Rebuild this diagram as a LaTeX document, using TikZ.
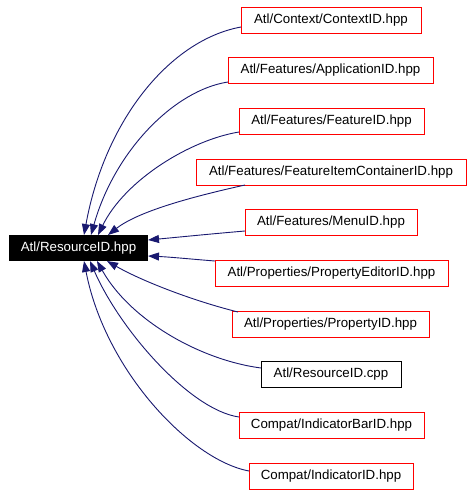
\documentclass[tikz,border=0pt]{standalone}
\usepackage{fontspec}
\setmainfont{Liberation Sans}
\usetikzlibrary{arrows.meta}
\definecolor{edgec}{HTML}{191970}
\definecolor{redb}{HTML}{FF0000}
\begin{document}
\begin{tikzpicture}[x=1pt,y=-1pt,
  box/.style={draw=redb, line width=1pt, inner sep=0pt, minimum height=26pt,
    font=\fontsize{13.3}{15}\selectfont, text=black},
  blkbox/.style={box, draw=black},
  edge/.style={draw=edgec, line width=0.9pt, -{Triangle[length=11pt,width=8pt,fill=edgec]}},
]
\useasboundingbox[fill=white] (0,0) rectangle (472,496);
% main node
\node[fill=black, text=white, minimum width=139pt, minimum height=26pt, inner sep=0pt,
  font=\fontsize{13.3}{15}\selectfont] (main) at (78.5,248) {Atl/ResourceID.hpp};
% targets
\node[box, minimum width=180pt] (n1) at (331,20) {Atl/Context/ContextID.hpp};
\node[box, minimum width=205pt] (n2) at (330.5,70.5) {Atl/Features/ApplicationID.hpp};
\node[box, minimum width=185pt] (n3) at (331.5,121.5) {Atl/Features/FeatureID.hpp};
\node[box, minimum width=270pt] (n4) at (331,172) {Atl/Features/FeatureItemContainerID.hpp};
\node[box, minimum width=172pt] (n5) at (331,222.5) {Atl/Features/MenuID.hpp};
\node[box, minimum width=233pt] (n6) at (331.5,273) {Atl/Properties/PropertyEditorID.hpp};
\node[box, minimum width=197pt] (n7) at (330.5,324.5) {Atl/Properties/PropertyID.hpp};
\node[blkbox, minimum width=140pt] (n8) at (331,374.5) {Atl/ResourceID.cpp};
\node[box, minimum width=185pt] (n9) at (331.5,425.5) {Compat/IndicatorBarID.hpp};
\node[box, minimum width=164pt] (n10) at (331,476) {Compat/IndicatorID.hpp};
% start points on target boxes
\coordinate (s1) at (241,27);
\coordinate (s2) at (228,82);
\coordinate (s3) at (239,132);
\coordinate (s4) at (245,185);
\coordinate (s5) at (245,231);
\coordinate (s6) at (215,261);
\coordinate (s7) at (238,312);
\coordinate (s8) at (261,368);
\coordinate (s9) at (239,417);
\coordinate (s10) at (249,471);
% tips on main node
\coordinate (t1) at (84,235);
\coordinate (t2) at (91,235);
\coordinate (t3) at (98,235);
\coordinate (t4) at (108,235);
\coordinate (t5) at (148,240);
\coordinate (t6) at (148,256);
\coordinate (t7) at (107,261);
\coordinate (t8) at (97,261);
\coordinate (t9) at (90,261);
\coordinate (t10) at (84,261);
% edges
\draw[edge] (s1) .. controls (170,40) and (105,120) .. (t1);
\draw[edge] (s2) .. controls (175,90) and (115,150) .. (t2);
\draw[edge] (s3) .. controls (190,140) and (125,180) .. (t3);
\draw[edge] (s4) .. controls (200,195) and (140,210) .. (t4);
\draw[edge] (s5) .. controls (210,234) and (180,237) .. (t5);
\draw[edge] (s6) .. controls (190,259) and (170,257) .. (t6);
\draw[edge] (s7) .. controls (190,300) and (140,280) .. (t7);
\draw[edge] (s8) .. controls (200,360) and (130,320) .. (t8);
\draw[edge] (s9) .. controls (190,410) and (120,330) .. (t9);
\draw[edge] (s10) .. controls (190,460) and (105,370) .. (t10);
\end{tikzpicture}
\end{document}
